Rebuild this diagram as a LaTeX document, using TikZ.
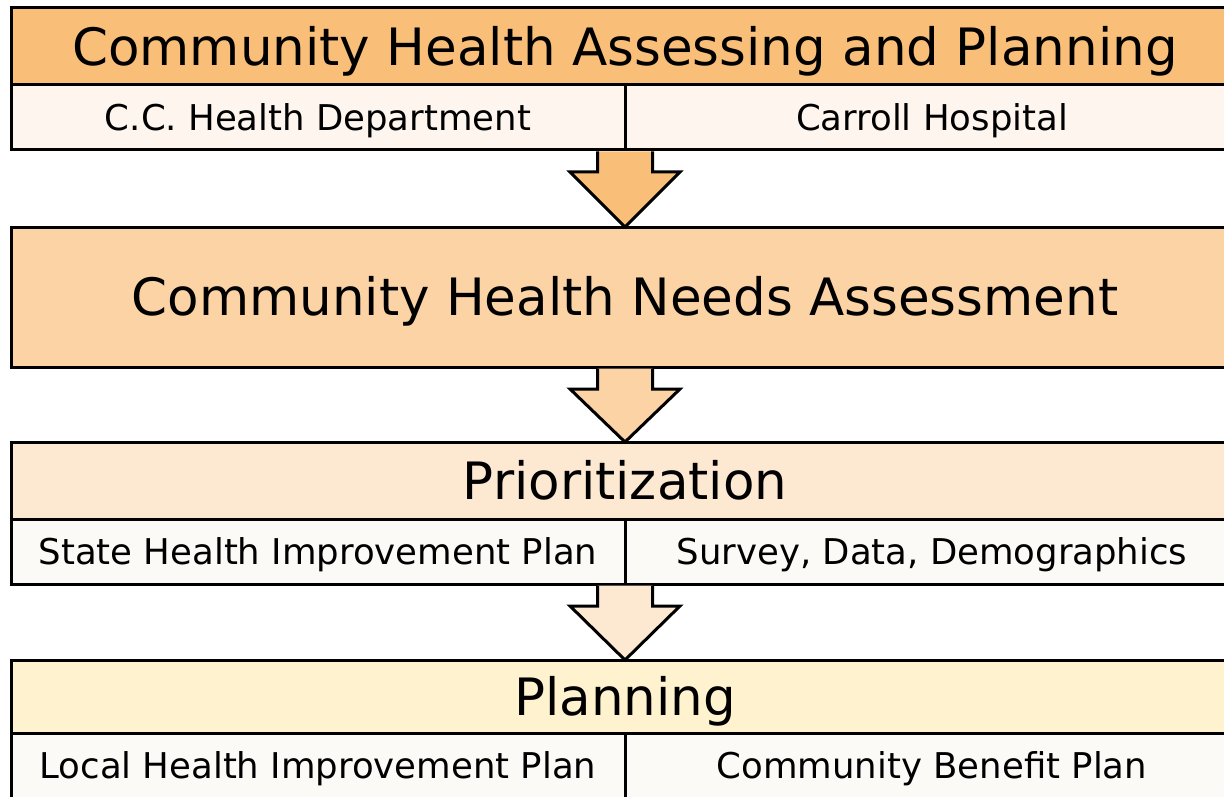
\documentclass[tikz,border=0pt]{standalone}
\usepackage{fontspec}
\setmainfont{DejaVu Sans}
\usetikzlibrary{calc,positioning}
\definecolor{headorange}{HTML}{F9BE78}
\definecolor{needspeach}{HTML}{FBD3A5}
\definecolor{priopeach}{HTML}{FDE8D1}
\definecolor{planyellow}{HTML}{FFF2CE}
\definecolor{subcream}{HTML}{FDF5EE}
\definecolor{subwhite}{HTML}{FCFAF7}
\tikzset{
	titlebox/.style={draw=black, line width=3pt, rectangle, inner sep=0pt, outer sep=0pt,
		minimum width=1228, minimum height=77, text height=37.6pt, text depth=0pt,
		font=\fontsize{51.5}{60}\selectfont},
	subbox/.style={draw=black, line width=3pt, rectangle, inner sep=0pt, outer sep=0pt,
		minimum width=614, minimum height=65, text height=25.9pt, text depth=0pt,
		font=\fontsize{35.5}{42}\selectfont},
	arrowline/.style={draw=black, line width=3pt, line join=miter},
}
\def\blockarrow(#1)(#2)#3{\draw[arrowline, fill=#3] ($(#1)+(-27.5,1.5)$) -- ($(#1)+(-27.5,22)$) -- ($(#1)+(-55,22)$) -- (#2) -- ($(#1)+(55,22)$) -- ($(#1)+(27.5,22)$) -- ($(#1)+(27.5,1.5)$);}

\begin{document}
\begin{tikzpicture}[x=1pt, y=-1pt]
		%%%%% START %%%%%
		\useasboundingbox (0, 0) rectangle (1224, 797);
		
		% assessing and planning
		\node[titlebox, fill=headorange] (chap) at (625, 46.5) {Community Health Assessing and Planning};
		\node[subbox, fill=subcream, anchor=north west] (cchd) at (chap.south west) {C.C. Health Department};
		\node[subbox, fill=subcream, right=0pt of cchd] (carroll) {Carroll Hospital};
		
		% needs assessment
		\node[titlebox, fill=needspeach, minimum height=140, below=77pt of cchd.south east] (needs) {Community Health Needs Assessment};
		
		% prioritization
		\node[titlebox, fill=priopeach, below=75pt of needs] (prio) {Prioritization};
		\node[subbox, fill=subwhite, anchor=north west] (ship) at (prio.south west) {State Health Improvement Plan};
		\node[subbox, fill=subwhite, right=0pt of ship] (survey) {Survey, Data, Demographics};
		
		% planning
		\node[titlebox, fill=planyellow, minimum height=73, below=76pt of ship.south east] (plan) {Planning};
		\node[subbox, fill=subwhite, anchor=north west] (lhip) at (plan.south west) {Local Health Improvement Plan};
		\node[subbox, fill=subwhite, right=0pt of lhip] (cbp) {Community Benefit Plan};
		
		\blockarrow(cchd.south east)(needs.north){headorange}
		\blockarrow(needs.south)(prio.north){needspeach}
		\blockarrow(ship.south east)(plan.north){priopeach}
		
		%%%%% END %%%%%
\end{tikzpicture}
\end{document}
